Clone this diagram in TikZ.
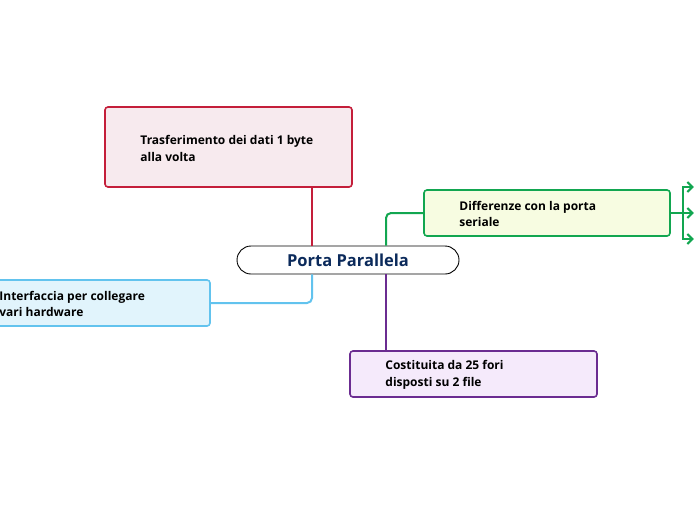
\documentclass[tikz,border=0pt]{standalone}
\usepackage{fontspec}
\setmainfont{Open Sans}
\usetikzlibrary{arrows.meta}
\definecolor{redln}{HTML}{C41E3A}
\definecolor{redbg}{HTML}{F7EAEE}
\definecolor{grnln}{HTML}{12A650}
\definecolor{grnbg}{HTML}{F7FCE1}
\definecolor{bluln}{HTML}{62C3EE}
\definecolor{blubg}{HTML}{E1F4FC}
\definecolor{purln}{HTML}{6B2C91}
\definecolor{purbg}{HTML}{F5EAFB}
\definecolor{navy}{HTML}{0B2A5B}

\begin{document}
\begin{tikzpicture}[x=1pt, y=-1pt,
      box/.style={rectangle, draw, rounded corners=3pt, line width=1.6pt,
                  minimum width=247pt, minimum height=46pt},
      txt/.style={anchor=west, align=left, inner sep=0pt,
                  font=\fontsize{12}{16.5}\selectfont\bfseries},
      conn/.style={line width=2pt, rounded corners=5pt}]
    \useasboundingbox (0,0) rectangle (696,520);
    \node[box, draw=redln, fill=redbg, minimum height=80pt] (trasf) at (228.5,147) {};
    \node[txt] (trasft) at ([xshift=36pt, yshift=-1.5pt]trasf.west) {Trasferimento dei dati 1 byte\\alla volta};
    \node[box, draw=grnln, fill=grnbg, minimum width=246pt] (diff) at (547,213) {};
    \node[txt] (difft) at ([xshift=36pt, yshift=-1pt]diff.west) {Differenze con la porta\\seriale};
    \node[box, draw=bluln, fill=blubg] (interf) at (86.5,303) {};
    \node[txt] (interft) at ([xshift=37pt, yshift=-1pt]interf.west) {Interfaccia per collegare\\vari hardware};
    \node[box, draw=purln, fill=purbg] (cost) at (473.5,374) {};
    \node[txt] (costt) at ([xshift=36pt, yshift=-1pt]cost.west) {Costituita da 25 fori\\disposti su 2 file};
    \node[rectangle, draw, rounded corners=14pt, line width=0.9pt, fill=white,
          minimum width=222pt, minimum height=28pt, text=navy,
          font=\fontsize{16.5}{18}\selectfont\bfseries] (porta) at (348,260) {Porta Parallela};
    \draw[conn, redln] ([xshift=-36pt]porta.north) -- ([xshift=-36pt]porta.north |- trasf.south);
    \draw[conn, grnln] ([xshift=38pt]porta.north) |- (diff.west);
    \draw[conn, bluln] ([xshift=-36pt]porta.south) |- (interf.east);
    \draw[conn, purln] ([xshift=38pt]porta.south) -- ([xshift=38pt]porta.south |- cost.north);
    \coordinate (fork) at ([xshift=12pt]diff.east);
    \draw[conn, grnln] (diff.east) -- (fork);
    \draw[line width=2pt, grnln] ([yshift=27pt]fork) -- ([yshift=-27pt]fork);
    \foreach \dy in {26,0,-26}
      \draw[line width=2pt, grnln, -{Straight Barb[length=5pt, width=10pt]}] ([yshift=\dy pt]fork) -- ++(11,0);
  \end{tikzpicture}
\end{document}
